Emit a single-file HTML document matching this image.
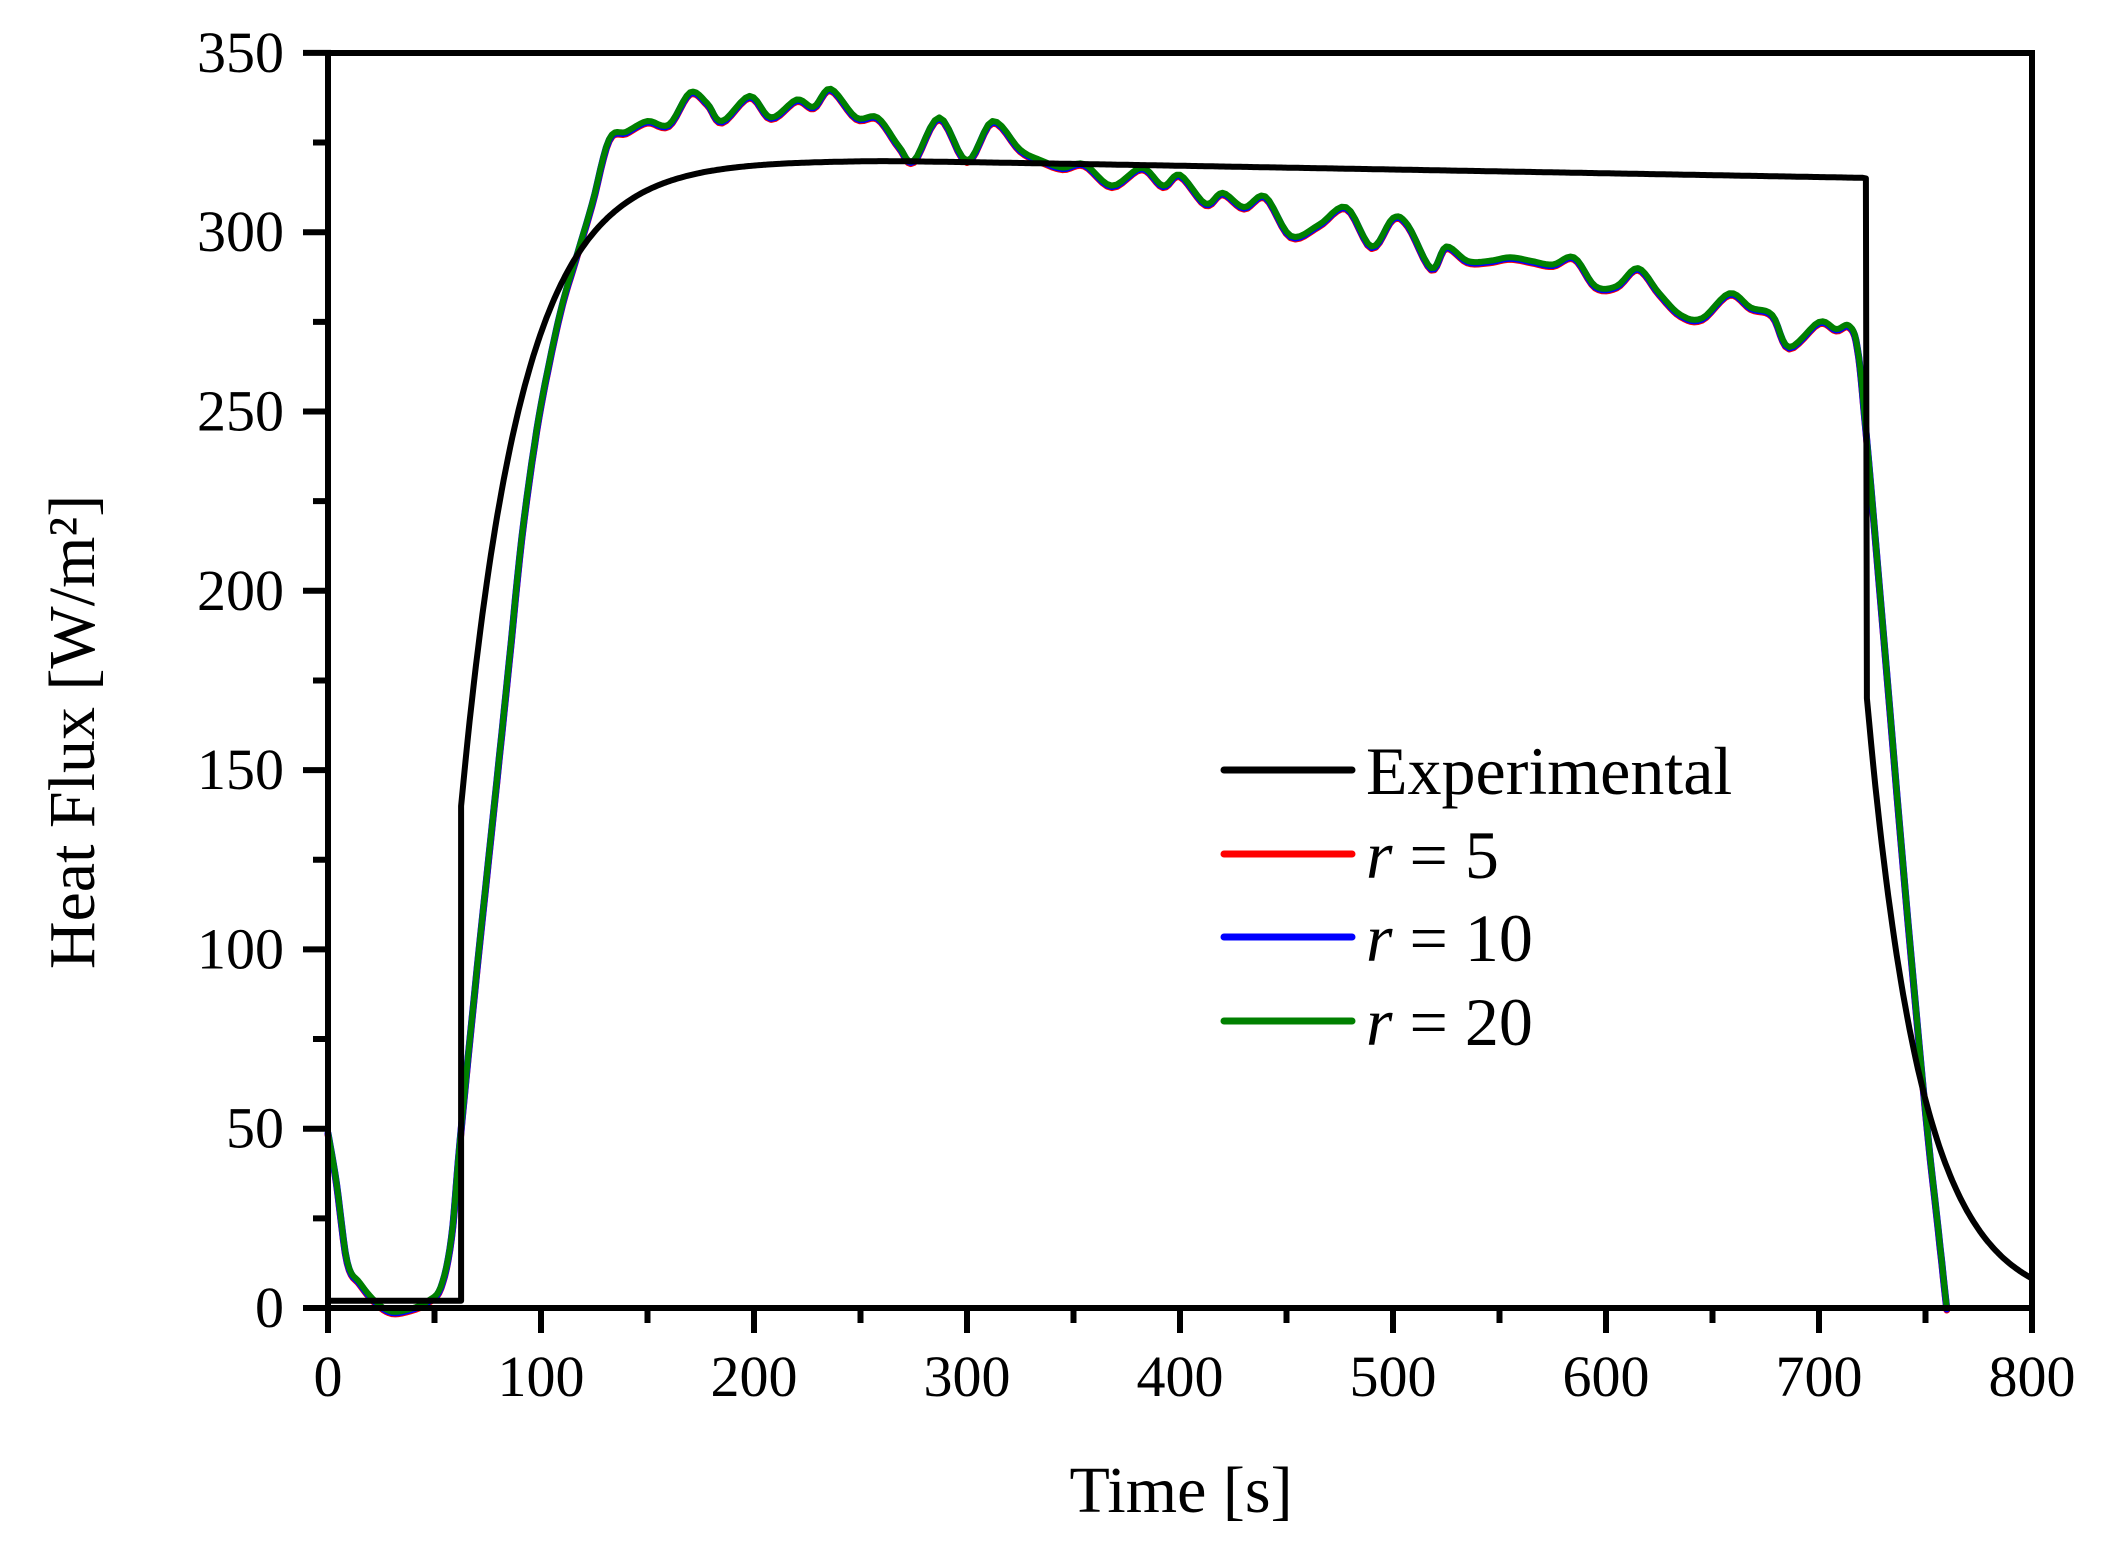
<!DOCTYPE html>
<html><head><meta charset="utf-8"><style>
html,body{margin:0;padding:0;background:#fff}
svg{display:block}
text{font-family:"Liberation Serif",serif;fill:#000}
</style></head><body>
<svg id="s" width="2101" height="1565" viewBox="0 0 2101 1565" xmlns="http://www.w3.org/2000/svg">
<g id="ticks" stroke="#000" stroke-width="6" stroke-linecap="square"></g>
<g id="labels" font-size="58"></g>
<g id="series" fill="none" stroke-linejoin="round" stroke-linecap="round"></g>
<rect x="328" y="53" width="1704" height="1255" fill="none" stroke="#000" stroke-width="6"/>
<text x="1181" y="1512" font-size="66" text-anchor="middle">Time [s]</text>
<text transform="translate(94,732) rotate(-90)" font-size="66" text-anchor="middle">Heat Flux [W/m²]</text>
<g stroke-width="7" stroke-linecap="round">
<line x1="1224" y1="770" x2="1352" y2="770" stroke="#000"/>
<line x1="1224" y1="854" x2="1352" y2="854" stroke="#f00"/>
<line x1="1224" y1="937" x2="1352" y2="937" stroke="#00f"/>
<line x1="1224" y1="1021" x2="1352" y2="1021" stroke="#008000"/>
</g>
<g font-size="68">
<text x="1366" y="794">Experimental</text>
<text x="1366" y="878"><tspan font-style="italic">r</tspan> = 5</text>
<text x="1366" y="961"><tspan font-style="italic">r</tspan> = 10</text>
<text x="1366" y="1045"><tspan font-style="italic">r</tspan> = 20</text>
</g>
</svg>
<script>
var NS="http://www.w3.org/2000/svg";
function X(t){return 328+t*2.13}
function Y(q){return 1308-q*3.586}
function el(n,a,p,txt){var e=document.createElementNS(NS,n);for(var k in a)e.setAttribute(k,a[k]);if(txt!==undefined)e.textContent=txt;p.appendChild(e);return e}
var tk=document.getElementById('ticks'),lb=document.getElementById('labels'),se=document.getElementById('series');
for(var t=0;t<=800;t+=50){var mj=t%100==0;el('line',{x1:X(t),y1:1308,x2:X(t),y2:1308+(mj?22:12)},tk);
 if(mj)el('text',{x:X(t),y:1396,'text-anchor':'middle'},lb,t);}
for(var q=0;q<=350;q+=25){var mj=q%50==0;el('line',{x1:328,y1:Y(q),x2:328-(mj?22:12),y2:Y(q)},tk);
 if(mj)el('text',{x:284,y:Y(q)+19,'text-anchor':'end'},lb,q);}
var e=[];
for(var t=0;t<=62;t+=2)e.push([t,2]);
e.push([62.5,2]);
for(var t=62.5;t<=721;t+=1){var b=320-(t-260)*0.0105; if(t<260)b=320;
 e.push([t,b-(b-140)*Math.exp(-(t-62.5)/28.4)]);}
e.push([722,315]);
for(var t=722.5;t<=800;t+=1)e.push([t,170*Math.exp(-(t-722.5)/25.6)]);
function path(pts,dy){var d='';for(var i=0;i<pts.length;i++){d+=(i?'L':'M')+X(pts[i][0]).toFixed(1)+' '+(Y(pts[i][1])+dy).toFixed(1)}return d}
var k=[[0,49],[4,35],[9,13],[15,7],[22,2],[30,-1],[40,0],[47,2],[53,6],[58,20],[62,47],[70,95],[78,140],[85,180],[91,215],[98,245],[104,264],[110,280],[116,292],[124,308],[132,326],[140,328],[150,331],[160,330],[170,339],[178,336],[185,331],[198,338],[208,332],[220,337],[228,335],[236,340],[248,332],[258,332],[268,324],[275,320],[287,332],[300,320],[312,331],[325,323],[335,320],[345,318],[355,319],[368,313],[382,318],[392,313],[400,316],[412,308],[420,311],[430,307],[440,310],[452,299],[465,302],[478,307],[490,296],[500,304],[507,302],[518,290],[525,296],[535,292],[545,292],[555,293],[565,292],[575,291],[585,293],[595,285],[605,285],[615,290],[625,283],[635,277],[645,276],[658,283],[668,279],[678,277],[686,268],[700,275],[708,273],[714,274],[718,268],[722,245],[730,190],[740,120],[750,55],[756,22],[760,0]];
function smooth(p){var o=[];for(var i=0;i<p.length-1;i++){var p0=p[Math.max(0,i-1)],p1=p[i],p2=p[i+1],p3=p[Math.min(p.length-1,i+2)];
 for(var s=0;s<6;s++){var u=s/6,u2=u*u,u3=u2*u;
 var f=function(a,b,c,d){return 0.5*(2*b+(-a+c)*u+(2*a-5*b+4*c-d)*u2+(-a+3*b-3*c+d)*u3)};
 o.push([f(p0[0],p1[0],p2[0],p3[0]),f(p0[1],p1[1],p2[1],p3[1])]);}}
 o.push(p[p.length-1]);return o}
var m=smooth(k);
el('path',{d:path(m,2),stroke:'#f00','stroke-width':7},se);
el('path',{d:path(m,1),stroke:'#00f','stroke-width':7},se);
el('path',{d:path(m,0),stroke:'#008000','stroke-width':6},se);
el('path',{d:path(e,0),stroke:'#000','stroke-width':6},se);
</script>
</body></html>
